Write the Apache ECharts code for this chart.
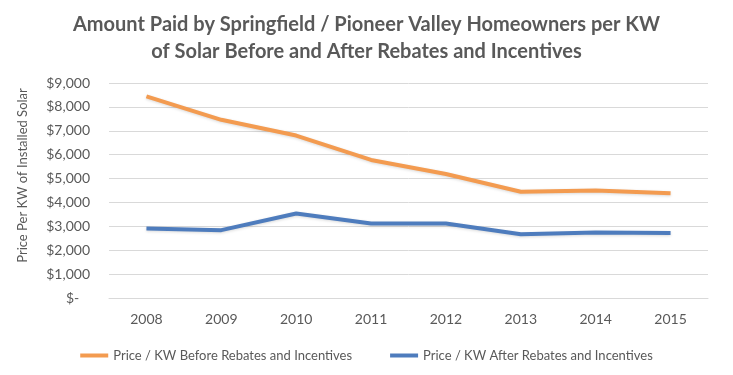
<!DOCTYPE html>
<html>
<head>
<meta charset="utf-8">
<script src="https://cdn.jsdelivr.net/npm/echarts@6/dist/echarts.min.js"></script>
<style>
  html, body { margin: 0; padding: 0; background: #fff; }
  #main { width: 733px; height: 375px; }
</style>
</head>
<body>
<div id="main"></div>
<script>
// values
var years = ["2008", "2009", "2010", "2011", "2012", "2013", "2014", "2015"];
var beforeRebates = [8440, 7460, 6800, 5780, 5190, 4450, 4500, 4380];
var afterRebates = [2910, 2840, 3540, 3120, 3120, 2670, 2740, 2720];
var seriesNames = ["Price / KW Before Rebates and Incentives", "Price / KW After Rebates and Incentives"];

var fontFam = "Lato, 'Open Sans', sans-serif";
var textColor = "#595959";

function money(v) {
    if (v === 0) {
        return "$-   ";
    }
    return "$" + v.toLocaleString("en-US");
}

var chart = echarts.init(document.getElementById("main"));
chart.setOption({
    animation: false,
    title: {
        text: "Amount Paid by Springfield / Pioneer Valley Homeowners per KW\nof Solar Before and After Rebates and Incentives",
        left: "center",
        top: 6,
        textStyle: {
            fontFamily: fontFam,
            fontSize: 20,
            fontWeight: "bold",
            color: textColor,
            lineHeight: 27
        }
    },
    legend: {
        data: seriesNames,
        bottom: 8,
        left: "center",
        itemGap: 38,
        itemWidth: 28,
        itemHeight: 4,
        icon: "rect",
        textStyle: { fontFamily: fontFam, fontSize: 13, color: textColor }
    },
    grid: { left: 109, right: 25, top: 83, bottom: 77 },
    xAxis: {
        type: "category",
        data: years,
        boundaryGap: true,
        axisLine: { show: true, lineStyle: { color: "#d9d9d9" } },
        axisTick: { show: false },
        axisLabel: { fontFamily: fontFam, fontSize: 14, color: textColor, margin: 14 }
    },
    yAxis: {
        type: "value",
        min: 0,
        max: 9000,
        interval: 1000,
        name: "Price Per KW of Installed Solar",
        nameLocation: "middle",
        nameGap: 80,
        nameTextStyle: { fontFamily: fontFam, fontSize: 13, color: textColor, padding: [0, 0, 0, 30] },
        axisLine: { show: false },
        axisTick: { show: false },
        splitLine: { lineStyle: { color: "#d9d9d9" } },
        axisLabel: { fontFamily: fontFam, fontSize: 14, color: textColor, margin: 19, formatter: money }
    },
    series: [
        {
            name: seriesNames[0],
            type: "line",
            data: beforeRebates,
            symbol: "none",
            color: "#F39B50",
            lineStyle: { width: 4, shadowColor: "rgba(0,0,0,0.15)", shadowBlur: 3, shadowOffsetY: 1 }
        },
        {
            name: seriesNames[1],
            type: "line",
            data: afterRebates,
            symbol: "none",
            color: "#4E7CBD",
            lineStyle: { width: 4, shadowColor: "rgba(0,0,0,0.15)", shadowBlur: 3, shadowOffsetY: 1 }
        }
    ]
});
</script>
</body>
</html>
